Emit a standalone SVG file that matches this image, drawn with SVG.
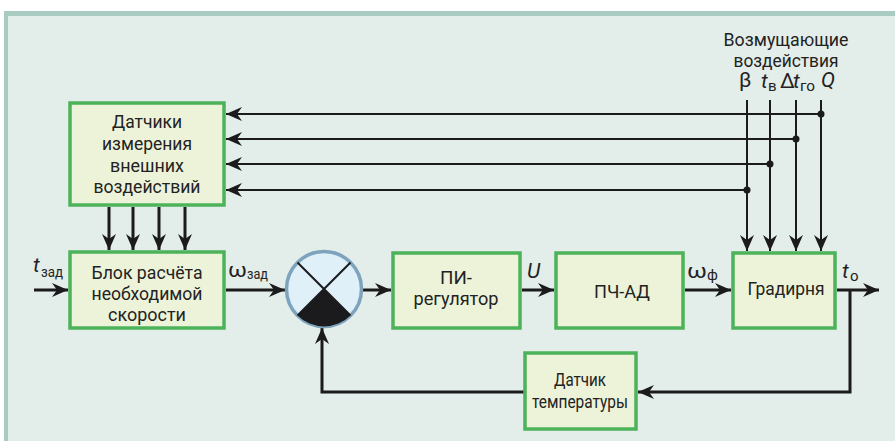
<svg xmlns="http://www.w3.org/2000/svg" width="895" height="441" viewBox="0 0 895 441">
<defs>
<style>
.box{fill:#edf3d9;stroke:#4cb35a;stroke-width:3.5}
.t{font-family:Roboto,"Liberation Sans",sans-serif;font-size:19px;fill:#222;text-anchor:middle}
.lbl{font-family:Roboto,"Liberation Sans",sans-serif;font-size:21px;fill:#222}
.sub{font-family:Roboto,"Liberation Sans",sans-serif;font-size:15px;fill:#222}
.sym{font-family:Roboto,"DejaVu Sans",sans-serif;font-size:21px;fill:#222}
.w{stroke:#1b1b1d;stroke-width:3;fill:none}
.n{stroke:#1b1b1d;stroke-width:2;fill:none}
</style>
<marker id="a" markerUnits="userSpaceOnUse" markerWidth="16" markerHeight="14" refX="16" refY="7" orient="auto">
<path d="M0,0 L16,7 L0,14 L5,7 z" fill="#1b1b1d"/>
</marker>
</defs>
<rect x="0" y="0" width="895" height="441" fill="#ffffff"/>
<rect x="4" y="11" width="891" height="430" fill="#e3ede9"/>
<rect x="4" y="11" width="891" height="5" fill="#a9cbc1"/>
<rect x="4" y="11" width="4" height="430" fill="#a9cbc1"/>

<g id="connectors">
<path class="n" d="M747,100 V251" marker-end="url(#a)"/>
<path class="n" d="M770,100 V251" marker-end="url(#a)"/>
<path class="n" d="M796,100 V251" marker-end="url(#a)"/>
<path class="n" d="M821,100 V251" marker-end="url(#a)"/>
<path class="n" d="M821,114 H226" marker-end="url(#a)"/>
<path class="n" d="M796,139 H226" marker-end="url(#a)"/>
<path class="n" d="M770,164 H226" marker-end="url(#a)"/>
<path class="n" d="M747,190 H226" marker-end="url(#a)"/>
<circle cx="821" cy="114" r="3.5" fill="#1b1b1d"/>
<circle cx="796" cy="139" r="3.5" fill="#1b1b1d"/>
<circle cx="770" cy="164" r="3.5" fill="#1b1b1d"/>
<circle cx="747" cy="190" r="3.5" fill="#1b1b1d"/>
<path class="w" d="M109,207 V250" marker-end="url(#a)"/>
<path class="w" d="M133,207 V250" marker-end="url(#a)"/>
<path class="w" d="M159,207 V250" marker-end="url(#a)"/>
<path class="w" d="M185,207 V250" marker-end="url(#a)"/>
<path class="w" d="M34,290 H68" marker-end="url(#a)"/>
<path class="w" d="M226,290 H285" marker-end="url(#a)"/>
<path class="w" d="M362,290 H391" marker-end="url(#a)"/>
<path class="w" d="M522,290 H554" marker-end="url(#a)"/>
<path class="w" d="M685,290 H731" marker-end="url(#a)"/>
<path class="w" d="M837,290 H879" marker-end="url(#a)"/>
<path class="w" d="M850,290 V392 H638" marker-end="url(#a)"/>
<path class="w" d="M524,392 H322 V328" marker-end="url(#a)"/>
</g>

<g id="sensors">
<rect class="box" x="70" y="103" width="154" height="102"/>
<text class="t" x="147" y="128" textLength="70" lengthAdjust="spacingAndGlyphs">Датчики</text>
<text class="t" x="147" y="150" textLength="90" lengthAdjust="spacingAndGlyphs">измерения</text>
<text class="t" x="147" y="172" textLength="74" lengthAdjust="spacingAndGlyphs">внешних</text>
<text class="t" x="147" y="193" textLength="107" lengthAdjust="spacingAndGlyphs">воздействий</text>
</g>

<g id="speed-block">
<rect class="box" x="70" y="252" width="154" height="76"/>
<text class="t" x="147" y="279" textLength="111" lengthAdjust="spacingAndGlyphs">Блок расчёта</text>
<text class="t" x="147" y="300" textLength="111" lengthAdjust="spacingAndGlyphs">необходимой</text>
<text class="t" x="147" y="321" textLength="78" lengthAdjust="spacingAndGlyphs">скорости</text>
</g>

<g id="sum">
<circle cx="324" cy="289" r="37.5" fill="#dff0f9" stroke="#7ea3bd" stroke-width="3.5"/>
<path d="M324,289 L350.5,315.5 A37.5,37.5 0 0 1 297.5,315.5 Z" fill="#1b1b1d"/>
<path d="M297.5,262.5 L350.5,315.5 M350.5,262.5 L297.5,315.5" stroke="#1b1b1d" stroke-width="2"/>
</g>

<g id="pi">
<rect class="box" x="393" y="253" width="127" height="75"/>
<text class="t" x="456" y="284" textLength="32" lengthAdjust="spacingAndGlyphs">ПИ-</text>
<text class="t" x="456" y="305" textLength="85" lengthAdjust="spacingAndGlyphs">регулятор</text>
</g>

<g id="pch-ad">
<rect class="box" x="556" y="253" width="127" height="75"/>
<text class="t" x="622" y="298" textLength="56" lengthAdjust="spacingAndGlyphs">ПЧ-АД</text>
</g>

<g id="gradirnya">
<rect class="box" x="733" y="253" width="102" height="75"/>
<text class="t" x="786" y="295" textLength="77" lengthAdjust="spacingAndGlyphs">Градирня</text>
</g>

<g id="temp-sensor">
<rect class="box" x="525" y="353" width="111" height="76"/>
<text class="t" x="580" y="386" textLength="52" lengthAdjust="spacingAndGlyphs">Датчик</text>
<text class="t" x="580" y="408" textLength="96" lengthAdjust="spacingAndGlyphs">температуры</text>
</g>

<g id="labels">
<text class="t" x="786" y="46" textLength="125" lengthAdjust="spacingAndGlyphs">Возмущающие</text>
<text class="t" x="786" y="67" textLength="105" lengthAdjust="spacingAndGlyphs">воздействия</text>
<text class="sym" x="739" y="87">β</text>
<text class="lbl" x="761" y="88" font-style="italic">t</text><text class="sub" x="768" y="91">в</text>
<text class="sym" x="780" y="88">Δ</text><text class="lbl" x="793" y="88" font-style="italic">t</text><text class="sub" x="800" y="91" textLength="15" lengthAdjust="spacingAndGlyphs">го</text>
<text class="lbl" x="821" y="87" font-style="italic">Q</text>
<text class="lbl" x="33" y="272" font-style="italic" font-size="23">t</text><text class="sub" x="41" y="277" textLength="22" lengthAdjust="spacingAndGlyphs">зад</text>
<text class="sym" x="228" y="277" font-size="24" textLength="19" lengthAdjust="spacingAndGlyphs">ω</text><text class="sub" x="247" y="279" textLength="21" lengthAdjust="spacingAndGlyphs">зад</text>
<text class="lbl" x="527" y="278" font-style="italic" font-size="22">U</text>
<text class="sym" x="687" y="278" font-size="24" textLength="20" lengthAdjust="spacingAndGlyphs">ω</text><text class="sub" x="707" y="280">ф</text>
<text class="lbl" x="842" y="278" font-style="italic" font-size="23">t</text><text class="sub" x="850" y="281">о</text>
</g>
</svg>
